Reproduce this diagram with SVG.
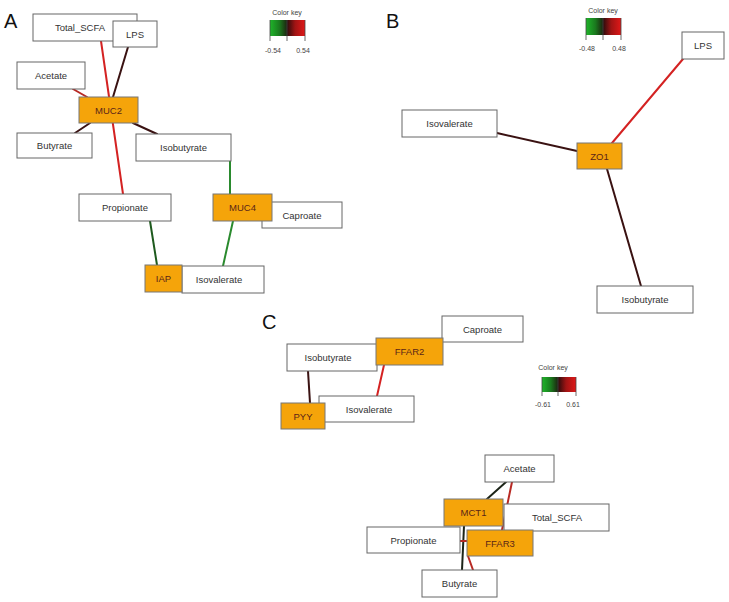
<svg xmlns="http://www.w3.org/2000/svg" width="729" height="602" viewBox="0 0 729 602">
<defs>
<linearGradient id="gGreen" x1="0" y1="0" x2="1" y2="0">
<stop offset="0" stop-color="#1fb52a"/><stop offset="0.55" stop-color="#1a7a1e"/><stop offset="1" stop-color="#1c2410"/>
</linearGradient>
<linearGradient id="gRed" x1="0" y1="0" x2="1" y2="0">
<stop offset="0" stop-color="#2a0c0c"/><stop offset="0.45" stop-color="#a01414"/><stop offset="1" stop-color="#e01818"/>
</linearGradient>
<style>
.box{fill:#fff;stroke:#666;stroke-width:1}
.hub{fill:#f5a40a;stroke:#777;stroke-width:1}
.t{font-family:"Liberation Sans",Arial,sans-serif;font-size:9.5px;fill:#333;text-anchor:middle}
.th{font-family:"Liberation Sans",Arial,sans-serif;font-size:9.5px;fill:#5a2418;text-anchor:middle}
.lab{font-family:"Liberation Sans",Arial,sans-serif;font-size:20px;fill:#111}
.ck{font-family:"Liberation Sans",Arial,sans-serif;font-size:7px;fill:#444;text-anchor:middle}
.tick{stroke:#444;stroke-width:0.8;fill:none}
.e{fill:none;stroke-width:2;stroke-linecap:round}
.red{stroke:#d42222}
.dred{stroke:#b82a24}
.dark{stroke:#3a1212}
.blk{stroke:#1c2418}
.grn{stroke:#2a8a2e}
.dgrn{stroke:#1e5a1e}
</style>
</defs>
<rect width="729" height="602" fill="#fff"/>

<text class="lab" x="4" y="28">A</text>
<text class="lab" x="386" y="28">B</text>
<text class="lab" x="262" y="329">C</text>

<g id="colorkey-A">
<text class="ck" x="287" y="15">Color key</text>
<rect x="270" y="20" width="17" height="16" fill="url(#gGreen)"/>
<rect x="287" y="20" width="18" height="16" fill="url(#gRed)"/>
<path class="tick" d="M270,20V41M287,20V41M305,20V41"/>
<text class="ck" x="273" y="53">-0.54</text>
<text class="ck" x="303" y="53">0.54</text>
</g>
<g id="colorkey-B">
<text class="ck" x="603" y="13">Color key</text>
<rect x="586" y="18" width="17" height="17" fill="url(#gGreen)"/>
<rect x="603" y="18" width="18" height="17" fill="url(#gRed)"/>
<path class="tick" d="M586,18V40M603,18V40M621,18V40"/>
<text class="ck" x="587" y="51">-0.48</text>
<text class="ck" x="619" y="51">0.48</text>
</g>
<g id="colorkey-C">
<text class="ck" x="553" y="370">Color key</text>
<rect x="542" y="377" width="16" height="15" fill="url(#gGreen)"/>
<rect x="558" y="377" width="18" height="15" fill="url(#gRed)"/>
<path class="tick" d="M542,377V396M558,377V396M576,377V396"/>
<text class="ck" x="543" y="407">-0.61</text>
<text class="ck" x="573" y="407">0.61</text>
</g>

<g id="connectors">
<!-- A -->
<line class="e red" x1="101" y1="41" x2="123" y2="194"/>
<line class="e dark" x1="128" y1="47" x2="113" y2="97"/>
<line class="e dred" x1="73" y1="89" x2="87" y2="97"/>
<line class="e dark" x1="75" y1="133" x2="90" y2="123"/>
<line class="e dark" x1="157" y1="134" x2="133" y2="123"/>
<line class="e grn" x1="230" y1="161" x2="230" y2="194"/>
<line class="e dgrn" x1="150" y1="221" x2="157" y2="265"/>
<line class="e grn" x1="233" y1="221" x2="223" y2="266"/>
<!-- B -->
<line class="e red" x1="683" y1="59" x2="612" y2="143"/>
<line class="e dark" x1="497" y1="133" x2="577" y2="151"/>
<line class="e dark" x1="607" y1="169" x2="641" y2="286"/>
<!-- C -->
<line class="e dark" x1="308" y1="371" x2="310" y2="403"/>
<line class="e red" x1="384" y1="365" x2="377" y2="396"/>
<line class="e blk" x1="506" y1="482" x2="487" y2="499"/>
<line class="e dred" x1="512" y1="482" x2="502" y2="530"/>
<line class="e blk" x1="464" y1="526" x2="462" y2="570"/>
<line class="e dred" x1="468" y1="556" x2="473" y2="570"/>
<line class="e dred" x1="460" y1="541" x2="467" y2="541"/>
</g>

<!-- Panel A nodes -->
<g id="A-Total_SCFA"><rect class="box" x="33" y="14" width="104" height="27"/><text class="t" x="80" y="31">Total_SCFA</text></g>
<g id="A-LPS"><rect class="box" x="113" y="21" width="44" height="26"/><text class="t" x="135" y="37.5">LPS</text></g>
<g id="A-Acetate"><rect class="box" x="17" y="62" width="68" height="27"/><text class="t" x="51" y="79">Acetate</text></g>
<g id="A-Butyrate"><rect class="box" x="17" y="133" width="75" height="25"/><text class="t" x="54.5" y="149">Butyrate</text></g>
<g id="A-Isobutyrate"><rect class="box" x="136" y="134" width="95" height="27"/><text class="t" x="183.5" y="151">Isobutyrate</text></g>
<g id="A-MUC2"><rect class="hub" x="79" y="97" width="59" height="26"/><text class="th" x="108.5" y="113.5">MUC2</text></g>
<g id="A-Propionate"><rect class="box" x="79" y="194" width="92" height="27"/><text class="t" x="125" y="211">Propionate</text></g>
<g id="A-Caproate"><rect class="box" x="262" y="202" width="80" height="26"/><text class="t" x="302" y="218.5">Caproate</text></g>
<g id="A-MUC4"><rect class="hub" x="213" y="194" width="59" height="27"/><text class="th" x="242.5" y="211">MUC4</text></g>
<g id="A-Isovalerate"><rect class="box" x="182" y="266" width="82" height="27"/><text class="t" x="219" y="283">Isovalerate</text></g>
<g id="A-IAP"><rect class="hub" x="145" y="265" width="37" height="27"/><text class="th" x="163.5" y="282">IAP</text></g>

<!-- Panel B nodes -->
<g id="B-LPS"><rect class="box" x="682" y="32" width="42" height="27"/><text class="t" x="703" y="49">LPS</text></g>
<g id="B-Isovalerate"><rect class="box" x="402" y="110" width="95" height="27"/><text class="t" x="449.5" y="127">Isovalerate</text></g>
<g id="B-ZO1"><rect class="hub" x="577" y="143" width="45" height="26"/><text class="th" x="599.5" y="159.5">ZO1</text></g>
<g id="B-Isobutyrate"><rect class="box" x="597" y="286" width="96" height="27"/><text class="t" x="645" y="303">Isobutyrate</text></g>

<!-- Panel C nodes -->
<g id="C-Caproate"><rect class="box" x="442" y="316" width="81" height="26"/><text class="t" x="482.5" y="332.5">Caproate</text></g>
<g id="C-Isobutyrate"><rect class="box" x="287" y="344" width="90" height="27"/><text class="t" x="328" y="361">Isobutyrate</text></g>
<g id="C-FFAR2"><rect class="hub" x="376" y="338" width="67" height="27"/><text class="th" x="409.5" y="355">FFAR2</text></g>
<g id="C-Isovalerate"><rect class="box" x="319" y="396" width="95" height="26"/><text class="t" x="369" y="412.5">Isovalerate</text></g>
<g id="C-PYY"><rect class="hub" x="281" y="403" width="44" height="26"/><text class="th" x="303" y="419.5">PYY</text></g>

<g id="C-Acetate"><rect class="box" x="485" y="455" width="69" height="27"/><text class="t" x="519.5" y="472">Acetate</text></g>
<g id="C-Total_SCFA"><rect class="box" x="504" y="504" width="105" height="27"/><text class="t" x="557" y="521">Total_SCFA</text></g>
<g id="C-MCT1"><rect class="hub" x="444" y="499" width="59" height="27"/><text class="th" x="473.5" y="516">MCT1</text></g>
<g id="C-Propionate"><rect class="box" x="367" y="527" width="93" height="26"/><text class="t" x="413.5" y="543.5">Propionate</text></g>
<g id="C-FFAR3"><rect class="hub" x="467" y="530" width="66" height="26"/><text class="th" x="500" y="546.5">FFAR3</text></g>
<g id="C-Butyrate"><rect class="box" x="422" y="570" width="75" height="27"/><text class="t" x="459.5" y="587">Butyrate</text></g>
</svg>
